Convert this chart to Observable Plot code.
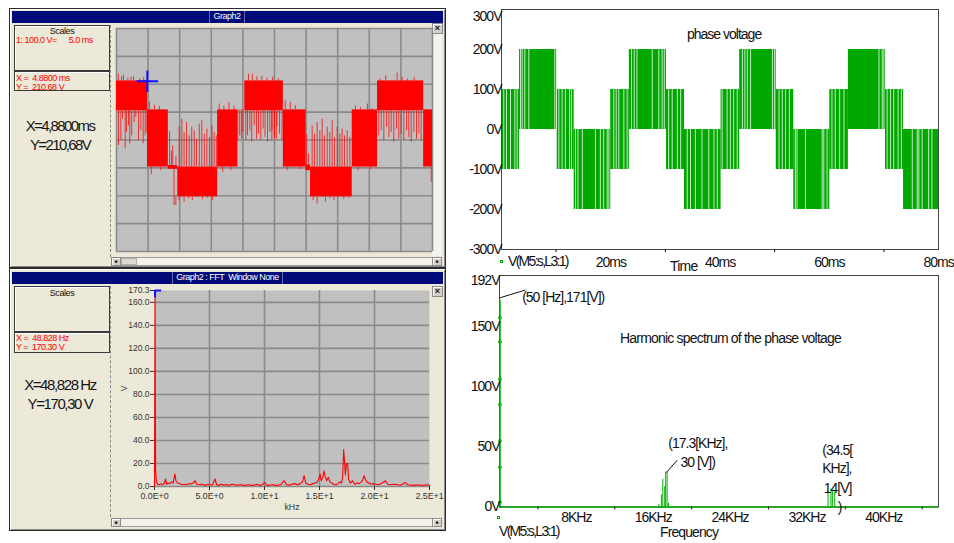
<!DOCTYPE html>
<html><head><meta charset="utf-8">
<script src="https://cdn.jsdelivr.net/npm/d3@7"></script>
<script src="https://cdn.jsdelivr.net/npm/@observablehq/plot@0.6"></script>
<style>
body{margin:0;background:#fff;width:954px;height:543px;position:relative;overflow:hidden;font-family:"Liberation Sans",Arial,sans-serif;}
.a{position:absolute;box-sizing:border-box;}
.win{background:#ece9d8;border:1px solid #2a2a2a;box-shadow:inset 1px 1px 0 #fff,inset -1px -1px 0 #8a8a8a;}
.bar{background:#000a78;}
.tt{color:#fff;font-size:9px;line-height:11px;letter-spacing:-0.5px;border-left:1px solid #5d6cab;border-right:1px solid #5d6cab;text-align:center;white-space:pre;}
.box{border:1px solid #3a3a3a;box-shadow:inset 1px 1px 0 #fff;background:#ece9d8;overflow:hidden;}
.red{color:#f00;font-size:9px;line-height:8.5px;letter-spacing:-0.5px;white-space:pre;}
.blk{color:#111;font-size:9px;letter-spacing:-0.4px;text-align:center;}
.big{color:#151515;font-size:15px;letter-spacing:-1.6px;text-align:center;white-space:pre;line-height:19px;}
.sep{border-left:1px dashed #8a8a8a;}
.btn{background:#d4d0c8;border:1px solid #8a8a8a;box-shadow:inset 1px 1px 0 #fff;font-size:9px;line-height:8px;text-align:center;font-weight:bold;color:#111;}
.track{background:#f2f1ea;border:1px solid #9a9a9a;}
.ps{color:#111;font-size:14px;letter-spacing:-1px;white-space:pre;}
.sq{width:3px;height:3px;border:1px solid #00a800;}
</style>
</head><body>
<script>
// ---------- DATA ----------
// Left top: oscilloscope, 100 V/div, 5 ms/div
const redGridMs = [0,5,10,15,20,25,30,35,40,45,50];
const redGridV = [-400,-300,-200,-100,0,100,200,300,400];
// dense PWM bands: [t0 ms, t1 ms, low V, high V]
const redBands = [
  [0,4.9,105,212],[4.9,8.2,-97,108],[8.2,9.7,-105,-92],[9.7,16.0,-204,-97],
  [16.0,19.2,-97,108],[20.3,26.4,105,212],[26.4,30.0,-97,108],[30.0,30.7,-110,-90],
  [30.7,37.3,-204,-97],[37.3,41.3,-97,108],[41.3,48.6,105,212],[48.6,50,-97,108]
];
// spikes: [t ms, from V, to V]
const redSpikes = [
  [0.32,105,-20],[0.69,105,-2],[0.95,105,75],[1.37,105,-32],[1.58,105,27],[1.9,105,51],[2.1,105,-14],
  [2.4,105,15],[2.8,105,63],[3.06,105,81],[3.48,105,-2],[3.85,105,33],[4.22,105,-14],[4.54,105,15],[4.8,105,27],
  [0.3,212,236],[0.8,212,227],[1.1,212,232],[1.8,212,222],[2.3,212,225],[2.7,212,227],[3.7,212,220],[4.3,212,224],
  [5.2,108,135],[6.0,108,125],[6.8,108,120],[5.5,-97,-125],[7.0,-97,-110],
  [8.4,-97,30],[8.7,-97,-40],[8.9,-97,-20],[9.1,-97,-235],[9.4,-97,-60],
  [9.92,-97,46],[10.34,-97,75],[10.7,-97,27],[11.08,-97,63],[11.5,-97,15],[11.9,-97,46],[12.3,-97,33],
  [12.66,-97,3],[13.1,-97,57],[13.5,-97,69],[13.9,-97,21],[14.3,-97,39],[14.7,-97,9],[15.1,-97,51],
  [15.45,-97,27],[15.8,-97,15],
  [9.39,-204,-235],[9.92,-204,-217],[10.7,-204,-223],[11.4,-204,-211],[12.0,-204,-217],[12.8,-204,-205],
  [13.6,-204,-214],[14.4,-204,-209],[15.2,-204,-217],[15.7,-204,-205],
  [16.25,108,129],[17.0,108,123],[17.8,108,135],[18.6,108,121],[16.8,-97,-116],[18.1,-97,-110],
  [19.2,108,-2],[19.5,108,15],[19.8,108,3],[20.0,108,27],
  [20.46,105,-2],[20.73,105,15],[21.1,105,33],[21.4,105,-8],[21.8,105,51],[22.15,105,3],[22.47,105,21],
  [22.84,105,-2],[23.2,105,39],[23.5,105,9],[23.9,105,-8],[24.26,105,27],[24.58,105,-2],[24.95,105,15],
  [25.3,105,3],[24.6,105,33],[25.0,105,3],[25.4,105,46],[25.8,105,21],[26.2,105,-2],
  [20.9,212,236],[21.5,212,236],[22.2,212,226],[23.0,212,228],[23.8,212,222],[24.7,212,226],[25.6,212,220],
  [26.7,108,141],[27.5,108,135],[28.3,108,123],[27.0,-97,-110],[29.1,-97,-106],
  [30.1,-97,20],[30.4,-97,-50],
  [30.96,-97,51],[31.33,-97,21],[31.75,-97,63],[32.17,-97,33],[32.54,-97,75],[32.9,-97,15],[33.34,-97,46],
  [33.75,-97,27],[34.13,-97,69],[34.5,-97,9],[34.92,-97,46],[35.34,-97,21],[35.7,-97,39],[36.08,-97,15],
  [36.5,-97,33],[36.92,-97,9],
  [31.1,-204,-217],[31.75,-204,-229],[32.4,-204,-205],[33.07,-204,-223],[33.75,-204,-211],[34.4,-204,-217],
  [35.18,-204,-205],[35.97,-204,-214],[36.76,-204,-210],
  [37.8,108,123],[38.6,108,117],[39.7,108,129],[40.5,108,113],[38.2,-97,-110],[40.2,-97,-106],
  [41.5,105,15],[41.88,105,33],[42.3,105,-2],[42.72,105,46],[43.1,105,9],[43.46,105,27],[43.88,105,-8],
  [44.3,105,39],[44.67,105,3],[45.04,105,21],[45.46,105,-2],[45.89,105,33],[46.25,105,9],[46.63,105,-8],
  [47.05,105,27],[47.47,105,3],[47.84,105,21],[48.2,105,-2],
  [41.7,212,219],[42.6,212,230],[44.4,212,240],[45.2,212,225],[46.0,212,219],[47.1,212,225],
  [49.8,-97,-152]
];
const redCursor = [4.88, 210.68];

// Left bottom: FFT
const fftGridKHz = [5,10,15,20];
const fftGridV = [0,20,40,60,80,100,120,140,160];
const fftYTicks = [0,20,40,60,80,100,120,140,160,170.3];
const fftYLabels = ["0.0","20.0","40.0","60.0","80.0","100.0","120.0","140.0","160.0","170.3"];
const fftXTicks = [0,5,10,15,20,25];
const fftXLabels = ["0.0E+0","5.0E+0","1.0E+1","1.5E+1","2.0E+1","2.5E+1"];
// [kHz, V]
const fftSpectrum = [
  [0,0],[0.05,170.3],[0.1,14],[0.18,4],[0.3,2],[0.45,1.5],[0.6,2.5],[0.75,1.5],[0.9,3],[1.0,6.5],[1.1,2],
  [1.25,3],[1.4,2.5],[1.55,4],[1.7,3],[1.85,10.8],[1.95,5],[2.1,3],[2.3,2.5],[2.5,1.5],[2.7,2],[2.9,1.5],
  [3.1,2.5],[3.3,2],[3.5,3],[3.7,5],[3.85,2],[4.05,1.5],[4.25,2],[4.45,1.5],[4.65,1],[4.85,2],[5.05,1.5],
  [5.25,1.2],[5.5,6.5],[5.65,1.5],[5.85,1],[6.05,2],[6.3,1.2],[6.55,1.5],[6.8,1],[7.05,2],[7.3,1.5],
  [7.55,1],[7.8,1.8],[8.05,1.2],[8.3,1],[8.55,1.5],[8.8,1],[9.05,1.2],[9.3,2],[9.55,1],[9.8,1.5],
  [10.0,3.5],[10.2,1.2],[10.45,1],[10.7,1.8],[10.95,1.2],[11.2,1],[11.45,1.5],[11.8,5],[12.0,1.5],
  [12.25,1.2],[12.5,2],[12.75,2.5],[13.0,1.5],[13.25,2.5],[13.45,4],[13.6,9.4],[13.75,3],[13.95,2],
  [14.15,1.5],[14.4,2.5],[14.6,3],[14.8,4],[14.95,7],[15.05,10.8],[15.15,5],[15.3,8],[15.4,13.7],
  [15.5,9],[15.65,5],[15.8,8],[15.95,4],[16.1,3],[16.3,2],[16.5,1.5],[16.7,2.5],[16.85,4],[17.0,3],
  [17.1,8],[17.2,32],[17.28,21],[17.35,10],[17.45,20],[17.55,20],[17.65,6],[17.8,3],[18.0,5],[18.2,2],
  [18.4,3],[18.6,2.5],[18.8,4],[18.95,6],[19.05,9.4],[19.15,7],[19.3,4],[19.5,3],[19.7,2],[19.9,2.5],
  [20.1,2],[20.4,1.5],[20.7,3],[21.0,5],[21.2,2],[21.5,1.5],[21.8,2],[22.1,1.5],[22.4,1.2],[22.8,3.5],
  [23.0,1.5],[23.3,1.2],[23.6,1],[23.9,1.5],[24.2,1],[24.5,1.2],[24.8,1.5],[25,1]
];
const fftCursor = [0.05, 170.3];

// Right top: phase voltage (PSpice)
const timeTicks = [20,40,60,80];
const timeMinorTicks = [10,30,50,70];
const voltTicks = [-300,-200,-100,0,100,200];
const voltTopTick = [300];
// [t0 ms, t1 ms, low V, high V]
const greenBands = [
  [0,3.3,-100,100],[3.3,10.2,0,200],[10.2,13.3,-100,100],[13.3,20.0,-200,0],
  [20.0,23.4,-100,100],[23.4,30.2,0,200],[30.2,33.5,-100,100],[33.5,40.2,-200,0],
  [40.2,43.6,-100,100],[43.6,50.3,0,200],[50.3,53.5,-100,100],[53.5,60.1,-200,0],
  [60.1,63.5,-100,100],[63.5,70.3,0,200],[70.3,73.6,-100,100],[73.6,80,-200,0]
];
// switching gaps: [t ms, low V, high V]
const greenGaps = [
  [0.42,-100,100],[0.92,-100,100],[1.65,-100,100],[2.44,-100,100],[2.87,-100,100],
  [3.48,0,200],[3.79,0,200],[4.27,0,200],[5.0,0,200],[9.76,0,200],[10.07,0,200],
  [10.5,-100,100],[11.1,-100,100],[11.7,-100,100],[12.45,-100,100],[12.8,-100,100],
  [13.55,-200,0],[14.0,-200,0],[14.8,-200,0],[17.2,-200,0],[18.1,-200,0],[18.7,-200,0],[19.35,-200,0],[19.65,-200,0],
  [20.56,-100,100],[21.0,-100,100],[21.47,-100,100],[22.4,-100,100],[23.0,-100,100],
  [23.8,0,200],[24.3,0,200],[24.8,0,200],[27.6,0,200],[28.8,0,200],[29.4,0,200],[29.8,0,200],
  [30.6,-100,100],[31.25,-100,100],[32.2,-100,100],[32.8,-100,100],
  [34.0,-200,0],[34.6,-200,0],[35.5,-200,0],[36.7,-200,0],[37.95,-200,0],[38.9,-200,0],[39.5,-200,0],
  [40.4,-100,100],[41.3,-100,100],[41.9,-100,100],[42.5,-100,100],[43.15,-100,100],
  [44.1,0,200],[44.55,0,200],[45.0,0,200],[45.6,0,200],[49.6,0,200],[50.0,0,200],
  [50.8,-100,100],[51.4,-100,100],[52.0,-100,100],[52.7,-100,100],
  [53.8,-200,0],[54.1,-200,0],[55.65,-200,0],[58.7,-200,0],[59.0,-200,0],[59.6,-200,0],
  [60.5,-100,100],[61.1,-100,100],[61.9,-100,100],[62.7,-100,100],
  [69.1,0,200],[69.7,0,200],[70.0,0,200],
  [70.6,-100,100],[71.2,-100,100],[71.8,-100,100],[72.6,-100,100],[73.2,-100,100],
  [75.2,-200,0],[76.1,-200,0],[76.4,-200,0],[77.0,-200,0],[78.2,-200,0],[78.8,-200,0]
];

// Right bottom: harmonic spectrum
const freqTicks = [8,16,24,32,40];
const freqMinorTicks = [4,12,20,28,36,44];
const specTicks = [0,50,100,150];
const specTopTick = [192];
const fundamental = [[0.05,171]];
const fundamentalMarkers = [157,137,106,85,55,33,4];
// [kHz, V]
const harmonicLines = [[16.6,2],[16.85,10],[17.0,23],[17.2,17],[17.3,29],[17.45,29],[17.6,3],
  [34.2,13],[34.5,15],[34.65,14],[34.9,14]];
const notes = [
  ["(50 [Hz],171[V])",2.36,173.5],["(17.3[KHz],",17.57,52.6],["30 [V])",18.85,36.8],
  ["(34.5[",33.6,46.5],["KHz],",33.6,31.6],["14[V]",33.75,15],[")",35.2,-0.8]
];
const leaders = [[0.05,173.5,2.7,180],[17.36,28.5,18.5,38.8]];

// ---------- HELPERS ----------
function el(cls, x, y, w, h, text, extra, parent) {
  const d = document.createElement("div");
  d.className = "a " + (cls || "");
  d.style.left = x + "px"; d.style.top = y + "px";
  if (w != null) d.style.width = w + "px";
  if (h != null) d.style.height = h + "px";
  if (text != null) d.textContent = text;
  if (extra) Object.assign(d.style, extra);
  (parent || document.body).appendChild(d);
  return d;
}
function place(svg, x, y) {
  const w = el("", x, y);
  w.appendChild(svg);
  svg.style.display = "block";
  return w;
}

// ---------- LEFT WINDOWS (chrome) ----------
el("win", 9, 8, 437, 260);
el("bar", 12, 11, 431, 12);
el("tt", 209, 11, 36, 12, "Graph2");
el("box", 14, 25, 96, 46);
el("blk", 14, 26, 96, 10, "Scales", {lineHeight:"10px"});
el("red", 16, 36, 94, 10, "1: 100.0 V=      5.0 ms");
el("box", 14, 71, 96, 20);
el("red", 16, 74, 94, 18, "X =  4.8800 ms\nY =  210.68 V");
el("big", 12, 116, 96, 42, "X=4,8800ms\nY=210,68V");
el("sep", 110, 25, 1, 232);
el("btn", 432, 23, 11, 11, "×");
el("", 432, 34, 10, 222, null, {background:"#f4f3ee"});
el("track", 111, 257, 331, 9);
el("btn", 111, 257, 10, 9, "•");
el("", 121, 258, 16, 7, null, {background:"#dcdad0",border:"1px solid #b0b0b0",boxSizing:"border-box"});
el("btn", 432, 257, 10, 9, "•");
el("win", 9, 268, 437, 263);
el("bar", 12, 272, 431, 12);
el("tt", 172, 272, 111, 12, "Graph2 : FFT  Window None");
el("box", 14, 286, 96, 46);
el("blk", 14, 288, 96, 10, "Scales", {lineHeight:"10px"});
el("box", 14, 332, 96, 21);
el("red", 16, 334, 94, 18, "X =  48.828 Hz\nY =  170.30 V");
el("big", 12, 375, 96, 42, "X=48,828 Hz\nY=170,30 V", {letterSpacing:"-1.4px"});
el("sep", 110, 286, 1, 231);
el("btn", 432, 286, 11, 11, "×");
el("track", 111, 518, 331, 9);
el("btn", 111, 518, 10, 9, "•");
el("btn", 432, 518, 10, 9, "•");

// ---------- PLOT: oscilloscope ----------
const bandObjs = (arr) => arr.map(([t0,t1,lo,hi]) => ({t0,t1,lo,hi}));
const ruleObjs = (arr) => arr.map(([t,a,b]) => ({t,a,b}));

const scope = Plot.plot({
  width: 316, height: 223, margin: 0,
  x: {domain: [0, 50], axis: null},
  y: {domain: [-400, 400], axis: null},
  style: "background:#c0c0c0;overflow:visible;",
  marks: [
    Plot.ruleX(redGridMs, {stroke: "#8a8a8a", strokeWidth: 1.6}),
    Plot.ruleY(redGridV, {stroke: "#8a8a8a", strokeWidth: 1.6}),
    Plot.rect(bandObjs(redBands), {x1: "t0", x2: "t1", y1: "lo", y2: "hi", fill: "#ff0000"}),
    Plot.ruleX(ruleObjs(redSpikes), {x: "t", y1: "a", y2: "b", stroke: "#ff0000", strokeWidth: 1, strokeOpacity: 0.75}),
    Plot.dot([redCursor], {x: d => d[0], y: d => d[1], symbol: "plus", r: 7, stroke: "#1010ff", strokeWidth: 2})
  ]
});
place(scope, 116, 28);

// ---------- PLOT: FFT ----------
const fft = Plot.plot({
  width: 321, height: 234, marginLeft: 43, marginRight: 3, marginTop: 6, marginBottom: 32,
  x: {domain: [0, 25]},
  y: {domain: [0, 170.3]},
  style: "background:transparent;overflow:visible;font-family:'Liberation Sans',Arial,sans-serif;color:#333;",
  marks: [
    Plot.frame({fill: "#c0c0c0"}),
    Plot.ruleX(fftGridKHz, {stroke: "#8a8a8a", strokeWidth: 1.6}),
    Plot.ruleY(fftGridV, {stroke: "#8a8a8a", strokeWidth: 1.6}),
    Plot.axisY({ticks: fftYTicks, tickFormat: d => fftYLabels[fftYTicks.indexOf(d)], tickSize: 4, tickPadding: 1,
      fontSize: 8.5, label: "V", labelAnchor: "center", labelOffset: 34, labelArrow: "none"}),
    Plot.axisX({ticks: fftXTicks, tickFormat: d => fftXLabels[fftXTicks.indexOf(d)], tickSize: 4, tickPadding: 2,
      fontSize: 8.8, label: "kHz", labelAnchor: "center", labelOffset: 23, labelArrow: "none"}),
    Plot.line(fftSpectrum, {x: d => d[0], y: d => d[1], stroke: "#ff0000", strokeWidth: 1.1}),
    Plot.ruleY([fftCursor], {x1: d => d[0], x2: () => 0.65, y: d => d[1], stroke: "#1010ff", strokeWidth: 2}),
    Plot.ruleX([fftCursor], {x: d => d[0], y1: () => 164, y2: d => d[1], stroke: "#1010ff", strokeWidth: 2})
  ]
});
place(fft, 111, 284);

// ---------- PLOT: phase voltage ----------
const psStyle = "background:transparent;overflow:visible;font-family:'Liberation Sans',Arial,sans-serif;font-size:14px;letter-spacing:-1px;color:#111;";
const phase = Plot.plot({
  width: 499, height: 275, marginLeft: 46, marginRight: 16, marginTop: 9, marginBottom: 26,
  x: {domain: [0, 80]},
  y: {domain: [-300, 300]},
  style: psStyle,
  marks: [
    Plot.rect(bandObjs(greenBands), {x1: "t0", x2: "t1", y1: "lo", y2: "hi", fill: "#00a800"}),
    Plot.ruleX(ruleObjs(greenGaps), {x: "t", y1: "a", y2: "b", stroke: "#ffffff", strokeWidth: 0.9, strokeOpacity: 0.85}),
    Plot.frame({stroke: "#444"}),
    Plot.axisY({ticks: voltTicks, tickFormat: d => d + "V", tickSize: 0, tickPadding: 0, fontSize: 14, label: null}),
    Plot.axisY({ticks: voltTopTick, tickFormat: d => d + "V", tickSize: 0, tickPadding: 0, fontSize: 14, label: null, dy: 7}),
    Plot.axisX({ticks: timeTicks, tickFormat: d => d + "ms", tickSize: 0, tickPadding: 8, fontSize: 14, label: null}),
    Plot.axisX({ticks: timeMinorTicks, tickFormat: () => "", tickSize: 3, label: null})
  ]
});
place(phase, 455, 0);

// ---------- PLOT: harmonic spectrum ----------
const spec = Plot.plot({
  width: 499, height: 273, marginLeft: 44, marginRight: 16, marginTop: 5, marginBottom: 36.5,
  x: {domain: [0, 45.7]},
  y: {domain: [0, 192]},
  style: psStyle,
  marks: [
    Plot.frame({stroke: "#444"}),
    Plot.ruleY([0], {stroke: "#00a800", strokeWidth: 1.5}),
    Plot.ruleX(fundamental, {x: d => d[0], y1: () => 0, y2: d => d[1], stroke: "#00b000", strokeWidth: 1.6}),
    Plot.ruleX(harmonicLines, {x: d => d[0], y1: () => 0, y2: d => d[1], stroke: "#00b000", strokeWidth: 1}),
    Plot.dot(fundamentalMarkers, {x: () => 0.05, y: d => d, r: 1.5, stroke: "#00b000", strokeWidth: 1, fill: "none"}),
    Plot.axisY({ticks: specTicks, tickFormat: d => d + "V", tickSize: 0, tickPadding: 0, fontSize: 14, label: null}),
    Plot.axisY({ticks: specTopTick, tickFormat: d => d + "V", tickSize: 0, tickPadding: 0, fontSize: 14, label: null, dy: 5}),
    Plot.axisX({ticks: freqTicks, tickFormat: d => d + "KHz", tickSize: 0, tickPadding: 5, fontSize: 14, label: null}),
    Plot.axisX({ticks: freqMinorTicks, tickFormat: () => "", tickSize: 3, label: null}),
    Plot.link(leaders, {x1: d => d[0], y1: d => d[1], x2: d => d[2], y2: d => d[3], stroke: "#111", strokeWidth: 1}),
    Plot.text(notes, {text: d => d[0], x: d => d[1], y: d => d[2], textAnchor: "start", fontSize: 14, fill: "#111"})
  ]
});
place(spec, 455, 270);

// ---------- PSpice texts ----------
el("ps", 687, 26, null, null, "phase voltage", {letterSpacing:"-1px"});
el("ps", 620, 330, null, null, "Harmonic spectrum of the phase voltage", {letterSpacing:"-0.8px"});
el("sq", 500, 260);
el("ps", 508, 253, null, null, "V(M5:s,L3:1)", {letterSpacing:"-1.7px"});
el("ps", 670, 258, null, null, "Time", {letterSpacing:"-0.8px"});
el("sq", 497, 516);
el("ps", 499, 523, null, null, "V(M5:s,L3:1)", {letterSpacing:"-1.7px"});
el("ps", 660, 524, null, null, "Frequency", {letterSpacing:"-0.9px"});
</script>
</body></html>
